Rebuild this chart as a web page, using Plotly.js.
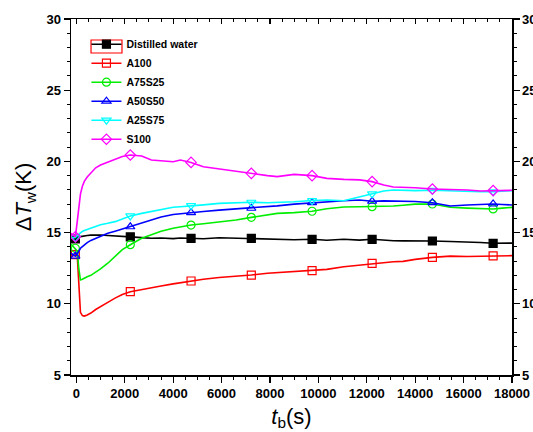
<!DOCTYPE html>
<html>
<head>
<meta charset="utf-8">
<script src="https://cdn.plot.ly/plotly-3.0.1.min.js"></script>
<style>html,body{margin:0;padding:0;background:#fff;}#chart{width:533px;height:432px;}</style>
</head>
<body>
<div id="chart"></div>
<script>
var time = [-220, -40, 40, 100, 170, 250, 330, 450, 600, 800, 1000, 1300, 1600, 1900, 2230,
  2700, 3100, 3500, 4000, 4300, 4740, 5250, 5900, 6600, 7230, 7900, 8300, 9000, 9740, 10350,
  11050, 11700, 12220, 12700, 13100, 13500, 14000, 14710, 15450, 16150, 16700, 17220, 17600, 18000];

var distilledWater = [14.35, 14.55, 14.65, 14.7, 14.72, 14.75, 14.77, 14.8, 14.82, 14.83, 14.83, 14.8, 14.78, 14.74, 14.7,
  14.65, 14.6, 14.62, 14.58, 14.62, 14.6, 14.57, 14.64, 14.6, 14.6, 14.55, 14.54, 14.5, 14.53, 14.46,
  14.53, 14.47, 14.53, 14.45, 14.43, 14.42, 14.43, 14.41, 14.38, 14.35, 14.3, 14.25, 14.27, 14.26];

var a100 = [13.3, 13.45, 13.35, 11.2, 9.4, 9.17, 9.14, 9.22, 9.35, 9.6, 9.78, 10.1, 10.4, 10.65, 10.85,
  10.98, 11.1, 11.25, 11.4, 11.48, 11.6, 11.72, 11.85, 11.93, 12.02, 12.15, 12.2, 12.26, 12.33, 12.42,
  12.6, 12.72, 12.84, 12.9, 12.95, 12.98, 13.12, 13.26, 13.35, 13.32, 13.33, 13.36, 13.37, 13.38];

var a75s25 = [14.2, 13.9, 13.7, 12.5, 11.67, 11.72, 11.8, 11.9, 12.0, 12.2, 12.45, 12.85, 13.3, 13.8, 14.15,
  14.6, 14.85, 15.1, 15.3, 15.4, 15.53, 15.62, 15.75, 15.88, 16.07, 16.25, 16.35, 16.4, 16.5, 16.68,
  16.8, 16.82, 16.82, 16.85, 16.87, 16.92, 17.0, 17.01, 16.78, 16.72, 16.68, 16.66, 16.72, 16.77];

var a50s50 = [13.55, 13.35, 13.5, 13.7, 13.9, 14.02, 14.15, 14.3, 14.45, 14.6, 14.75, 14.95, 15.1, 15.25, 15.41,
  15.7, 15.9, 16.1, 16.27, 16.33, 16.4, 16.48, 16.58, 16.66, 16.71, 16.82, 16.88, 17.0, 17.1, 17.17,
  17.24, 17.29, 17.2, 17.23, 17.22, 17.2, 17.18, 17.1, 16.87, 16.94, 16.98, 17.01, 16.97, 16.94];

var a25s75 = [14.6, 14.65, 14.8, 14.9, 15.0, 15.08, 15.15, 15.22, 15.3, 15.45, 15.55, 15.65, 15.77, 15.95, 16.17,
  16.35, 16.48, 16.62, 16.78, 16.82, 16.9, 16.95, 17.05, 17.1, 17.13, 17.1, 17.12, 17.17, 17.25, 17.29,
  17.24, 17.5, 17.72, 17.92, 17.99, 17.97, 17.95, 17.97, 17.92, 17.87, 17.87, 17.87, 17.9, 17.95];

var s100 = [14.95, 14.7, 15.8, 16.8, 17.7, 18.25, 18.6, 18.9, 19.2, 19.55, 19.75, 19.95, 20.15, 20.35, 20.45,
  20.38, 20.1, 20.05, 19.98, 20.1, 19.93, 19.63, 19.47, 19.28, 19.16, 19.0, 18.93, 19.09, 19.0, 18.81,
  18.74, 18.7, 18.58, 18.34, 18.2, 18.18, 18.15, 18.06, 18.03, 17.99, 17.92, 17.95, 17.96, 17.97];

var markerTimes = [-40, 2230, 4740, 7230, 9740, 12220, 14710, 17220];

var seriesNames = ['Distilled water', 'A100', 'A75S25', 'A50S50', 'A25S75', 'S100'];
var seriesValues = [distilledWater, a100, a75s25, a50s50, a25s75, s100];
var seriesColors = ['#000000', '#ff0000', '#00ee00', '#0000ff', '#00ffff', '#ff00ff'];
var seriesSymbols = ['square', 'square-open', 'circle-open', 'triangle-up-open', 'triangle-down-open', 'diamond-open'];

var xTickVals = [0, 2000, 4000, 6000, 8000, 10000, 12000, 14000, 16000, 18000];
var xTickText = ['0', '2000', '4000', '6000', '8000', '10000', '12000', '14000', '16000', '18000'];
var yTickVals = [5, 10, 15, 20, 25, 30];
var yTickText = ['5', '10', '15', '20', '25', '30'];

var FONT = 'Arial, "Liberation Sans", sans-serif';
var traces = [];
seriesNames.forEach(function (name, i) {
  var vals = seriesValues[i];
  var mx = [], my = [];
  time.forEach(function (t, k) {
    if (markerTimes.indexOf(t) >= 0) { mx.push(t); my.push(vals[k]); }
  });
  var mk = {symbol: seriesSymbols[i], size: 8, color: seriesColors[i], line: {color: seriesColors[i], width: 1.2}};
  traces.push({x: time, y: vals, type: 'scatter', mode: 'lines', line: {color: seriesColors[i], width: 1.6},
    showlegend: false, legendgroup: name, hoverinfo: 'skip'});
  traces.push({x: mx, y: my, type: 'scatter', mode: 'markers', marker: mk,
    showlegend: false, legendgroup: name, name: name});
  traces.push({x: [null], y: [null], type: 'scatter', mode: 'lines+markers', name: name,
    line: {color: seriesColors[i], width: 1.5}, marker: mk, legendgroup: name});
});
traces.push({x: [null], y: [null], xaxis: 'x2', yaxis: 'y2', type: 'scatter', mode: 'markers', showlegend: false, hoverinfo: 'skip'});

var tickFont = {family: FONT, size: 13, color: '#000', weight: 'bold'};
var axisCommon = {
  showgrid: false, zeroline: false, showline: true, linecolor: '#000', linewidth: 1.5,
  tickcolor: '#000', tickwidth: 1.2, tickfont: tickFont
};

var layout = {
  width: 533, height: 432,
  margin: {l: 71, r: 21, t: 19, b: 57},
  paper_bgcolor: '#fff', plot_bgcolor: '#fff',
  font: {family: FONT, color: '#000'},
  xaxis: Object.assign({}, axisCommon, {
    range: [-220, 18000], tickvals: xTickVals, ticktext: xTickText, ticks: 'outside', ticklen: 6,
    minor: {dtick: 500, tick0: 0, ticks: 'outside', ticklen: 3, tickcolor: '#000', tickwidth: 1},
    title: {text: '<i>t</i><sub>b</sub>(s)', font: {family: FONT, size: 22}, standoff: 8}
  }),
  yaxis: Object.assign({}, axisCommon, {
    range: [5, 30], tickvals: yTickVals, ticktext: yTickText, ticks: 'outside', ticklen: 6,
    minor: {dtick: 1, tick0: 5, ticks: 'outside', ticklen: 3, tickcolor: '#000', tickwidth: 1},
    title: {text: 'Δ<i>T</i><sub>w</sub>(K)', font: {family: FONT, size: 22}, standoff: 8}
  }),
  xaxis2: Object.assign({}, axisCommon, {
    overlaying: 'x', side: 'top', anchor: 'y', range: [-220, 18000], tickvals: xTickVals,
    ticks: 'inside', ticklen: 5, showticklabels: false,
    minor: {dtick: 500, tick0: 0, ticks: 'inside', ticklen: 3, tickcolor: '#000', tickwidth: 1}
  }),
  yaxis2: Object.assign({}, axisCommon, {
    overlaying: 'y', side: 'right', anchor: 'x', range: [5, 30], tickvals: yTickVals, ticktext: yTickText,
    ticks: 'outside', ticklen: 6,
    minor: {dtick: 1, tick0: 5, ticks: 'outside', ticklen: 3, tickcolor: '#000', tickwidth: 1}
  }),
  legend: {x: 0.035, y: 0.97, xanchor: 'left', yanchor: 'top', bgcolor: 'rgba(0,0,0,0)',
    font: {family: FONT, size: 10.5, color: '#000', weight: 'bold'}, itemwidth: 30, tracegroupgap: 0},
  shapes: [{type: 'rect', xref: 'paper', yref: 'paper', x0: 0.0454, x1: 0.1156, y0: 0.9045, y1: 0.941,
    line: {color: '#ff0000', width: 1.2}, fillcolor: 'rgba(0,0,0,0)'}],
  showlegend: true
};

Plotly.newPlot('chart', traces, layout, {staticPlot: true});
</script>
</body>
</html>
